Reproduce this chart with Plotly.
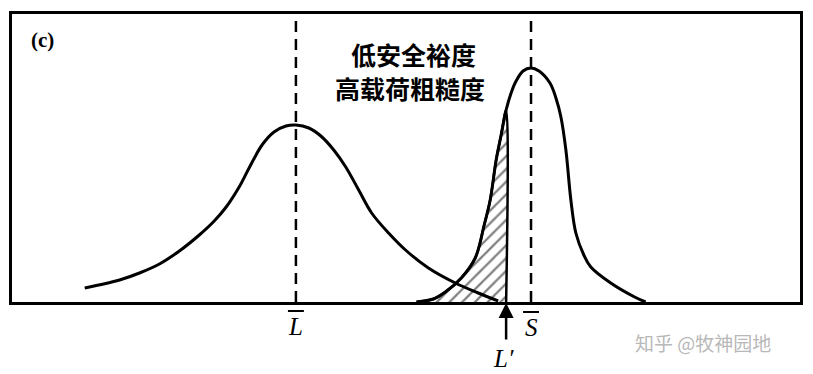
import plotly.graph_objects as go

# ---- data (x = stress/load axis, y = probability density, arbitrary units)
load_x = [85, 120, 140, 160, 180, 200, 215, 227, 240, 250, 263, 275, 287, 297, 310, 322, 335, 347, 360, 373, 390, 407, 430, 457, 480, 500]
load_y = [14, 22, 29, 38, 51, 67, 81, 95, 115, 134, 157, 170, 176, 177, 174, 166, 152, 135, 112, 89, 69, 52, 34, 19, 9, 1]

strength_x = [418, 435, 447, 463, 477, 486, 492, 498, 503, 508, 513, 517, 525, 533, 541, 552, 558, 563, 568, 573, 578, 586, 593, 613, 637, 648]
strength_y = [0, 3, 10, 24, 44, 77, 102, 142, 167, 192, 209, 219, 231, 234, 231, 219, 204, 185, 152, 102, 69, 47, 35, 19, 5, 0]

overlap_x = [418, 435, 447, 463, 477, 486, 492, 498, 503, 508]
overlap_y = [0, 3, 10, 24, 44, 77, 102, 142, 167, 192]

mean_load = 297
mean_strength = 533
l_prime = 508
y_top = 284

title_lines = ["低安全裕度", "高载荷粗糙度"]
panel_label = "(c)"
watermark = "知乎 @牧神园地"

Y_SPAN = 288.0  # plot-area height in y units


def py(v):
    """convert a y value (same units as the curves) to paper coordinates"""
    return v / Y_SPAN


fig = go.Figure()

# hatched overlap area
fig.add_trace(go.Scatter(
    x=overlap_x + [l_prime], y=overlap_y + [0], mode="lines",
    line=dict(color="black", width=2.5, shape="spline", smoothing=1.0),
    fill="tozeroy", fillcolor="white",
    fillpattern=dict(shape="/", size=9, solidity=0.25, fgcolor="black", bgcolor="white"),
    hoverinfo="skip", showlegend=False))

# load curve
fig.add_trace(go.Scatter(x=load_x, y=load_y, mode="lines",
                         line=dict(color="black", width=3, shape="spline", smoothing=1.0),
                         showlegend=False))
# strength curve
fig.add_trace(go.Scatter(x=strength_x, y=strength_y, mode="lines",
                         line=dict(color="black", width=3, shape="spline", smoothing=1.0),
                         showlegend=False))

# dashed mean lines
for xm in (mean_load, mean_strength):
    fig.add_trace(go.Scatter(x=[xm, xm], y=[0, y_top], mode="lines",
                             line=dict(color="black", width=2.5, dash="11px,7px"),
                             showlegend=False))

fig.update_xaxes(range=[12, 803], showgrid=False, zeroline=False, showticklabels=False,
                 ticks="", showline=True, linecolor="black", linewidth=3, mirror=True)
fig.update_yaxes(range=[0, Y_SPAN], showgrid=False, zeroline=False, showticklabels=False,
                 ticks="", showline=True, linecolor="black", linewidth=3, mirror=True)

serif = "Liberation Serif"
cjk = "Noto Sans CJK SC"


def label(x, y, text, family, size, color="black"):
    return dict(x=x, y=py(y), xref="x", yref="paper", text=text, showarrow=False,
                xanchor="center", yanchor="middle", font=dict(family=family, size=size, color=color))


ann = [
    label(43, 262, "<b>" + panel_label + "</b>", serif, 21),
    label(415, 248, "<b>" + title_lines[0] + "</b>", cjk, 25),
    label(412, 214, "<b>" + title_lines[1] + "</b>", cjk, 25),
    label(mean_load, -24, "<i>L</i>", serif, 25),
    label(mean_strength, -25, "<i>S</i>", serif, 25),
    label(l_prime - 3, -56, "<i>L\u2032</i>", serif, 25),
    label(706, -40, watermark, cjk, 19, "#b8b8b8"),
    # arrow pointing up to L'
    dict(x=l_prime, y=py(-1), ax=0, ay=38, xref="x", yref="paper", axref="pixel", ayref="pixel",
         text="", showarrow=True, arrowhead=2, arrowsize=1.2, arrowwidth=2.5, arrowcolor="black"),
]
fig.update_layout(annotations=ann)

# overbars on the mean labels
for xm, yb in ((mean_load, -9), (mean_strength, -10)):
    fig.add_shape(type="line", xref="x", yref="paper", x0=xm - 8, x1=xm + 8,
                  y0=py(yb), y1=py(yb), line=dict(color="black", width=2))

fig.update_layout(width=813, height=374, margin=dict(l=12, r=10, t=14, b=72),
                  paper_bgcolor="white", plot_bgcolor="white")

fig.write_html("out.html")
